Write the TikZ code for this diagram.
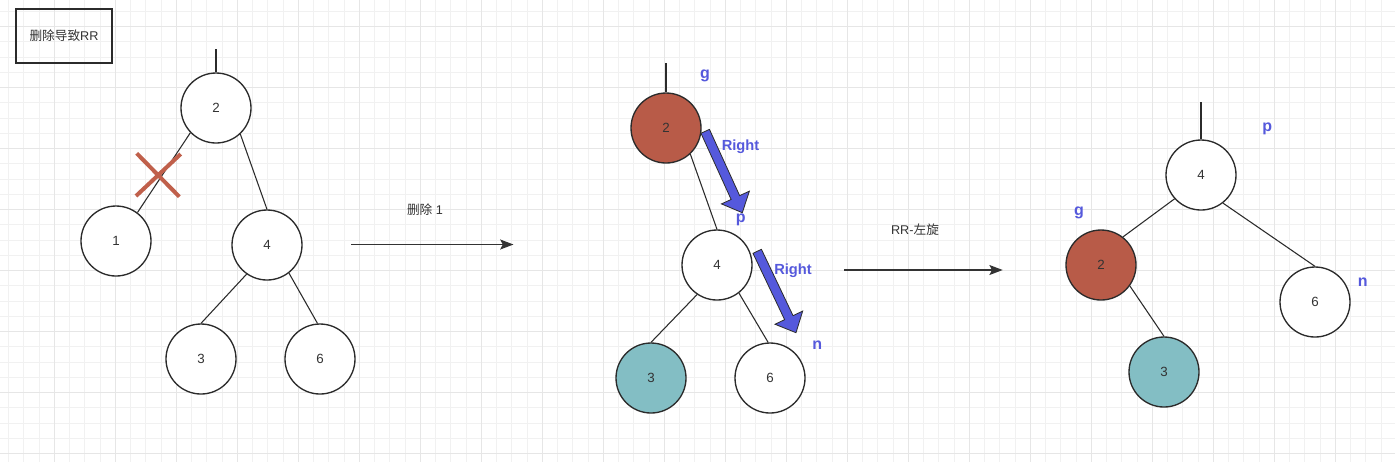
\documentclass[tikz,border=0pt]{standalone}
\usepackage{fontspec}
\setmainfont{Liberation Sans}
\newfontfamily\cjk{Noto Sans CJK SC}
\usetikzlibrary{arrows.meta,calc}
\definecolor{textdark}{HTML}{333333}
\definecolor{linedark}{HTML}{2B2B2B}
\definecolor{nodered}{HTML}{B85B48}
\definecolor{nodeteal}{HTML}{83BEC4}
\definecolor{markblue}{HTML}{5559DC}
\definecolor{crossred}{HTML}{C0604B}
\definecolor{gridminor}{HTML}{F1F1F1}
\definecolor{gridmajor}{HTML}{E6E6E6}

\tikzset{
  treenode/.style={circle, draw=linedark, line width=1pt, fill=white,
    minimum size=52.5pt, inner sep=0pt, text=textdark,
    font=\fontsize{10}{12}\selectfont},
  rednode/.style={treenode, fill=nodered},
  tealnode/.style={treenode, fill=nodeteal},
  tag/.style={text=markblue, inner sep=0pt, font=\bfseries\fontsize{12}{14}\selectfont},
  dirtag/.style={tag, font=\bfseries\fontsize{11}{13}\selectfont},
  edge/.style={draw=linedark, line width=0.8pt},
  steparrow/.style={draw=textdark, line width=1pt,
    -{Stealth[length=10pt,width=7.5pt,inset=2pt]}},
  steplabel/.style={text=textdark, font=\fontsize{9.5}{11}\selectfont},
}

% thick blue pointer from tail #1 to tip #2
\newcommand{\blockarrow}[2]{%
  \path ($(#2)!12.5pt!(#1)$) coordinate (#2-base);
  \draw[draw=linedark, line width=0.6pt, fill=markblue, line join=miter]
    ($(#1)!3.5pt!90:(#2)$) -- ($(#2-base)!3.5pt!90:(#2)$)
    -- ($(#2-base)!11.5pt!90:(#2)$) -- (#2)
    -- ($(#2-base)!11.5pt!-90:(#2)$) -- ($(#2-base)!3.5pt!-90:(#2)$)
    -- ($(#1)!3.5pt!-90:(#2)$) -- cycle;
}

\begin{document}
\begin{tikzpicture}[x=0.75pt, y=-0.75pt]
  \path[use as bounding box, fill=white] (0,0) rectangle (1395,462);

  % grid
  \foreach \i in {0,...,91} {
    \pgfmathsetmacro\gx{8.55+15.25*\i}
    \draw[gridminor, line width=0.75pt] (\gx,0) -- (\gx,462);
  }
  \foreach \j in {0,...,29} {
    \pgfmathsetmacro\gy{11.45+15.25*\j}
    \draw[gridminor, line width=0.75pt] (0,\gy) -- (1395,\gy);
  }
  \foreach \i in {0,...,22} {
    \pgfmathsetmacro\gx{54.3+61*\i}
    \draw[gridmajor, line width=1pt] (\gx,0) -- (\gx,462);
  }
  \foreach \j in {0,...,7} {
    \pgfmathsetmacro\gy{26.7+61*\j}
    \draw[gridmajor, line width=1pt] (0,\gy) -- (1395,\gy);
  }

  \node[draw=linedark, line width=1pt, minimum width=72pt, minimum height=40.5pt,
    inner sep=0pt, steplabel] (title) at (64,36) {{\cjk 删除导致}RR};

  % before the deletion
  \coordinate (ltop) at (216,49);
  \node[treenode] (l2) at (216,108) {2};
  \node[treenode] (l1) at (116,241) {1};
  \node[treenode] (l4) at (267,245) {4};
  \node[treenode] (l3) at (201,359) {3};
  \node[treenode] (l6) at (320,359) {6};
  \draw[edge] (ltop) -- (l2.north);
  \draw[edge] (l2.-136) -- (l1.53);
  \draw[edge] (l2.-47) -- (l4.north);
  \draw[edge] (l4.-125) -- (l3.north);
  \draw[edge] (l4.-52) -- (l6.94);
  \draw[crossred, line width=3pt] (136.7,153.3) -- (179.3,196.7)
    (180.7,154) -- (136,196);

  \coordinate (a1s) at (351,244.5);
  \coordinate (a1e) at (513.5,244.5);
  \draw[steparrow] (a1s) -- (a1e);
  \node[steplabel] (a1lab) at (425,210) {{\cjk 删除} 1};

  % after the deletion
  \coordinate (mtop) at (666,63);
  \node[rednode] (m2) at (666,128) {2};
  \node[treenode] (m4) at (717,265) {4};
  \node[tealnode] (m3) at (651,378) {3};
  \node[treenode] (m6) at (770,378) {6};
  \draw[edge] (mtop) -- (m2.north);
  \draw[edge] (m2.-47) -- (m4.north);
  \draw[edge] (m4.-124) -- (m3.north);
  \draw[edge] (m4.-52) -- (m6.93);

  \coordinate (mr1t) at (705.2,131.3);
  \coordinate (mr1h) at (742.3,212.7);
  \blockarrow{mr1t}{mr1h}
  \coordinate (mr2t) at (757.2,251.3);
  \coordinate (mr2h) at (796,332.7);
  \blockarrow{mr2t}{mr2h}

  \node[tag] (mg) at (705,76) {g};
  \node[tag] (mp) at (740.7,220) {p};
  \node[tag] (mn) at (817.3,345) {n};
  \node[dirtag] (mright1) at (740.5,147) {Right};
  \node[dirtag] (mright2) at (793,271) {Right};

  \coordinate (a2s) at (844,270);
  \coordinate (a2e) at (1002.7,270);
  \draw[steparrow] (a2s) -- (a2e);
  \node[steplabel] (a2lab) at (915,230) {RR-{\cjk 左旋}};

  % after the left rotation
  \coordinate (rtop) at (1201,102);
  \node[treenode] (r4) at (1201,175) {4};
  \node[rednode] (r2) at (1101,265) {2};
  \node[treenode] (r6) at (1315,302) {6};
  \node[tealnode] (r3) at (1164,372) {3};
  \draw[edge] (rtop) -- (r4.north);
  \draw[edge] (r4.-138) -- (r2.52);
  \draw[edge] (r4.-52) -- (r6.north);
  \draw[edge] (r2.-36) -- (r3.north);

  \node[tag] (rp) at (1267.3,129.3) {p};
  \node[tag] (rg) at (1079,212.7) {g};
  \node[tag] (rn) at (1362.7,281.7) {n};
\end{tikzpicture}
\end{document}
